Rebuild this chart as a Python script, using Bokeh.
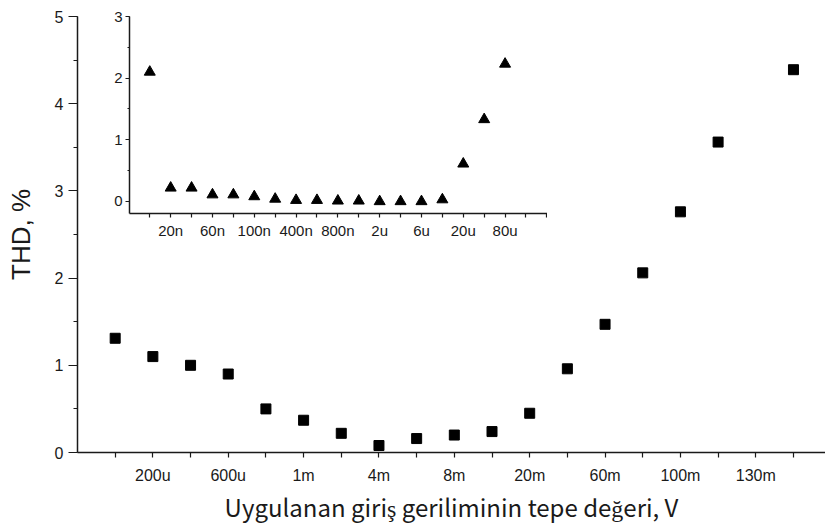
from bokeh.plotting import figure
from bokeh.layouts import column
from bokeh.models import Range1d, FixedTicker, SingleIntervalTicker
from bokeh.embed import file_html
from bokeh.resources import INLINE

# Main series: THD (%) against applied peak input voltage (category index)
main_pos = [0, 1, 2, 3, 4, 5, 6, 7, 8, 9, 10, 11, 12, 13, 14, 15, 16, 18]
main_thd = [1.31, 1.10, 1.00, 0.90, 0.50, 0.37, 0.22, 0.08, 0.16, 0.20,
            0.24, 0.45, 0.96, 1.47, 2.06, 2.76, 3.56, 4.39]
main_tick_pos = [1, 3, 5, 7, 9, 11, 13, 15, 17]
main_tick_labels = ["200u", "600u", "1m", "4m", "8m", "20m", "60m", "100m", "130m"]

# Inset series: low-voltage range
inset_pos = list(range(18))
inset_thd = [2.10, 0.22, 0.22, 0.11, 0.11, 0.08, 0.04, 0.02, 0.02, 0.01,
             0.01, 0.00, 0.00, 0.00, 0.03, 0.61, 1.33, 2.23]
inset_tick_pos = [1, 3, 5, 7, 9, 11, 13, 15, 17]
inset_tick_labels = ["20n", "60n", "100n", "400n", "800n", "2u", "6u", "20u", "80u"]

INK = "#1a1a1a"
TICK_FONT = "Arial"
LEFT = 77  # shared left border: the column aligns the frames' left edges


def style_axes(fig, tick_size):
    for ax in (fig.xaxis[0], fig.yaxis[0]):
        ax.axis_line_color = INK
        ax.axis_line_width = 1.5
        ax.major_tick_line_color = INK
        ax.major_tick_line_width = 1.2
        ax.minor_tick_line_color = INK
        ax.minor_tick_line_width = 1.2
        ax.major_label_text_color = INK
        ax.major_label_text_font = TICK_FONT
        ax.major_label_text_font_size = tick_size
        ax.major_tick_in = 0
        ax.minor_tick_in = 0
    fig.grid.visible = False
    fig.outline_line_color = None


# ---- main plot ----
main = figure(width=825, height=526, output_backend="svg", toolbar_location=None,
              x_range=Range1d(-1, 18.85), y_range=Range1d(0, 5),
              min_border_left=LEFT, min_border_right=0,
              min_border_top=16, min_border_bottom=73)
style_axes(main, "16px")

main.xaxis.ticker = FixedTicker(ticks=list(range(0, 19)), minor_ticks=[])
main.xaxis.major_label_overrides = {
    **{i: "" for i in range(0, 19)},
    **dict(zip(main_tick_pos, main_tick_labels)),
}
main.xaxis.major_tick_out = 5
main.xaxis.major_label_standoff = 9
main.xaxis.axis_label = "Uygulanan giriş geriliminin tepe değeri, V"
main.xaxis.axis_label_text_font = "Noto Sans CJK JP"
main.xaxis.axis_label_text_font_size = "24px"
main.xaxis.axis_label_text_font_style = "normal"
main.xaxis.axis_label_text_color = INK
main.xaxis.axis_label_standoff = 2

main.yaxis.ticker = SingleIntervalTicker(interval=1, num_minor_ticks=2)
main.yaxis.major_tick_out = 9
main.yaxis.minor_tick_out = 4
main.yaxis.major_label_standoff = 5
main.yaxis.axis_label = "THD, %"
main.yaxis.axis_label_text_font = TICK_FONT
main.yaxis.axis_label_text_font_size = "26px"
main.yaxis.axis_label_text_font_style = "normal"
main.yaxis.axis_label_text_color = INK
main.yaxis.axis_label_standoff = 16

main.scatter(main_pos, main_thd, marker="square", size=10, color="black")

# ---- inset plot ----
inset = figure(width=495, height=243, output_backend="svg", toolbar_location=None,
               x_range=Range1d(-0.97, 19.03), y_range=Range1d(-0.195, 3),
               min_border_left=LEFT, min_border_right=0,
               min_border_top=16, min_border_bottom=30)
style_axes(inset, "15px")
inset.background_fill_alpha = 0
inset.border_fill_alpha = 0

inset.xaxis.ticker = FixedTicker(ticks=list(range(0, 20)), minor_ticks=[])
inset.xaxis.major_label_overrides = {
    **{i: "" for i in range(0, 20)},
    **dict(zip(inset_tick_pos, inset_tick_labels)),
}
inset.xaxis.major_tick_out = 4
inset.xaxis.major_label_standoff = 4

inset.yaxis.ticker = SingleIntervalTicker(interval=1, num_minor_ticks=2)
inset.yaxis.major_tick_out = 4
inset.yaxis.minor_tick_out = 2
inset.yaxis.major_label_standoff = 3

inset.scatter(inset_pos, inset_thd, marker="triangle", size=11, color="black")

# The inset floats over the upper-left of the main plot, its frame at x = 129
inset.styles = {"position": "absolute", "left": "52px", "top": "0px"}
page = column(main, inset, styles={"position": "relative"})

open("out.html", "w").write(file_html(page, INLINE))
